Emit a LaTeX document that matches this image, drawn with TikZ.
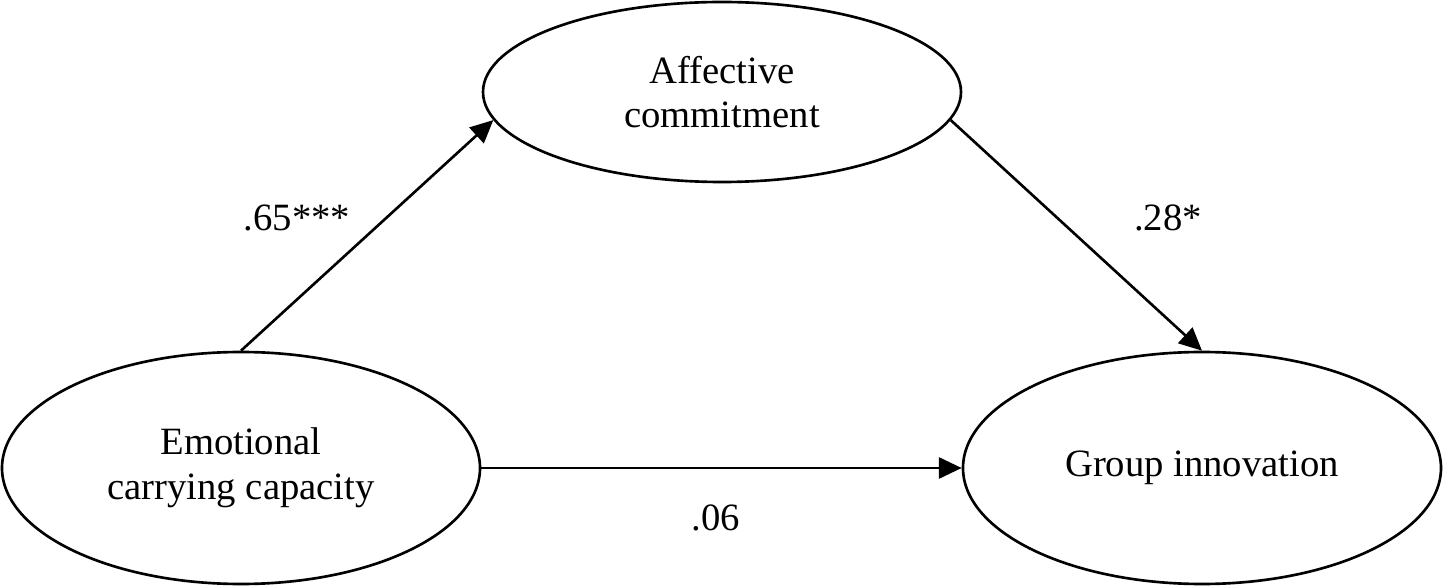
\documentclass[tikz,border=0pt]{standalone}
\usepackage{fontspec}
\setmainfont{Liberation Serif}
\usetikzlibrary{shapes.geometric,arrows.meta}
\begin{document}
\begin{tikzpicture}[x=0.02cm,y=-0.02cm,
  ell/.style={draw,ellipse,line width=1.5pt,inner sep=0pt,align=center,font=\fontsize{22}{25.5}\selectfont},
  arr/.style={line width=1.5pt,-{Triangle[length=13pt,width=12pt]}},
  lab/.style={font=\fontsize{22}{25.5}\selectfont}]
\useasboundingbox (0,0) rectangle (1444,587);
\node[ell,minimum width=478*0.02cm,minimum height=180*0.02cm] (T) at (722,92) {Affective\\commitment};
\node[ell,minimum width=478*0.02cm,minimum height=232*0.02cm] (L) at (241,468) {Emotional\\carrying capacity};
\node[ell,minimum width=478*0.02cm,minimum height=232*0.02cm] (R) at (1202,468) {Group innovation};
\draw[arr] (L.north) -- (T.187);
\draw[arr] (T.353) -- (R.north);
\draw[arr] (L.east) -- (R.west);
\node[lab] (a) at (297,218) {.65***};
\node[lab] (b) at (1168,218) {.28*};
\node[lab] (c) at (716,518) {.06};
\end{tikzpicture}
\end{document}
